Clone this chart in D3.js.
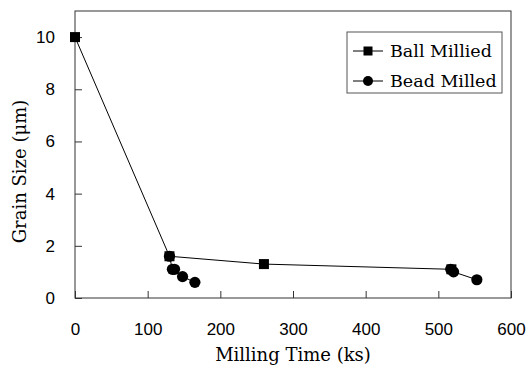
<!DOCTYPE html>
<html><head><meta charset="utf-8">
<script src="https://cdn.jsdelivr.net/npm/d3@7"></script>
<style>html,body{margin:0;padding:0;background:#fff;}svg{display:block;}
.serif{font-family:"DejaVu Serif","Noto Serif",serif;}
.sans{font-family:"Liberation Sans",Arial,Helvetica,sans-serif;}
</style>
</head><body>
<script>
// Data
const ballTimes = [0, 130, 260, 518];
const ballSizes = [10, 1.6, 1.3, 1.1];
const beadTimesEarly = [130, 134, 137, 148, 165];
const beadSizesEarly = [1.6, 1.1, 1.1, 0.82, 0.6];
const beadTimesLate = [517, 521, 553];
const beadSizesLate = [1.1, 1.0, 0.7];
const xTicks = [0, 100, 200, 300, 400, 500, 600];
const yTicks = [0, 2, 4, 6, 8, 10];
const seriesNames = ["Ball Millied", "Bead Milled"];

const W = 528, H = 372;
const m = {left: 75, right: 17, top: 11, bottom: 74};
const svg = d3.select("body").append("svg").attr("width", W).attr("height", H);

const x = d3.scaleLinear().domain([0, 600]).range([m.left, W - m.right]);
const y = d3.scaleLinear().domain([0, 11]).range([H - m.bottom, m.top]);

const axisColor = "#333";

svg.append("rect").attr("x", x(0)).attr("y", y(11)).attr("width", x(600) - x(0)).attr("height", y(0) - y(11))
  .attr("fill", "none").attr("stroke", axisColor).attr("stroke-width", 1);

const gx = svg.append("g").attr("transform", `translate(0,${y(0)})`)
  .call(d3.axisBottom(x).tickValues(xTicks).tickSizeInner(-7).tickSizeOuter(0).tickPadding(25).tickFormat(d3.format("d")));
gx.select(".domain").remove();
gx.attr("font-family", null).attr("font-size", null);
gx.selectAll(".tick line").attr("stroke", axisColor);
gx.selectAll("text").attr("class", "sans").attr("font-size", 17).attr("fill", "#000");

const gy = svg.append("g").attr("transform", `translate(${x(0)},0)`)
  .call(d3.axisLeft(y).tickValues(yTicks).tickSizeInner(-7).tickSizeOuter(0).tickPadding(20).tickFormat(d3.format("d")));
gy.select(".domain").remove();
gy.attr("font-family", null).attr("font-size", null);
gy.selectAll(".tick line").attr("stroke", axisColor);
gy.selectAll("text").attr("class", "sans").attr("font-size", 17).attr("fill", "#000");

svg.append("text").attr("class", "serif").attr("x", (x(0) + x(600)) / 2).attr("y", 361).attr("text-anchor", "middle")
  .attr("font-size", 18).text("Milling Time (ks)");
svg.append("text").attr("class", "serif").attr("transform", `translate(26,${(y(0) + y(11)) / 2 + 17}) rotate(-90)`).attr("text-anchor", "middle")
  .attr("font-size", 18).text("Grain Size (μm)");

const line = d3.line().x(d => x(d[0])).y(d => y(d[1]));
const ball = ballTimes.map((t, i) => [t, ballSizes[i]]);
const beadA = beadTimesEarly.map((t, i) => [t, beadSizesEarly[i]]);
const beadB = beadTimesLate.map((t, i) => [t, beadSizesLate[i]]);

[ball, beadA, beadB].forEach(s => {
  svg.append("path").datum(s).attr("d", line).attr("fill", "none").attr("stroke", "#000").attr("stroke-width", 1);
});

const sq = 10;
svg.append("g").selectAll("rect").data(ball).join("rect")
  .attr("x", d => x(d[0]) - sq / 2).attr("y", d => y(d[1]) - sq / 2).attr("width", sq).attr("height", sq).attr("fill", "#000");
svg.append("g").selectAll("circle").data(beadA.concat(beadB)).join("circle")
  .attr("cx", d => x(d[0])).attr("cy", d => y(d[1])).attr("r", 5.6).attr("fill", "#000");

const lg = svg.append("g");
lg.append("rect").attr("x", 347).attr("y", 32).attr("width", 155).attr("height", 61)
  .attr("fill", "#fff").attr("stroke", "#555").attr("stroke-width", 1);
seriesNames.forEach((name, i) => {
  const cy = 51 + i * 30;
  lg.append("line").attr("x1", 353).attr("x2", 383).attr("y1", cy).attr("y2", cy).attr("stroke", "#000");
  if (i === 0) lg.append("rect").attr("x", 368 - 4.5).attr("y", cy - 4.5).attr("width", 9).attr("height", 9).attr("fill", "#000");
  else lg.append("circle").attr("cx", 368).attr("cy", cy).attr("r", 5).attr("fill", "#000");
  lg.append("text").attr("class", "serif").attr("x", 390).attr("y", cy + 6).attr("font-size", 17.5).text(name);
});
</script>
</body></html>
